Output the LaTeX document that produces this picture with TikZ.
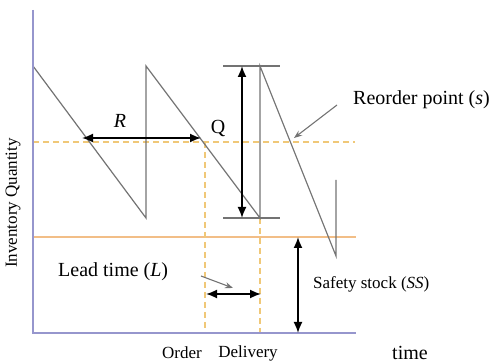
\documentclass[tikz,border=0pt]{standalone}
\usepackage{fontspec}
\setmainfont{Liberation Serif}
\usetikzlibrary{arrows.meta}
\definecolor{axiscol}{RGB}{150,150,205}
\definecolor{sawcol}{RGB}{115,115,115}
\definecolor{dashcol}{RGB}{240,200,120}
\definecolor{sscol}{RGB}{242,190,135}
\tikzset{
  axisline/.style={draw=axiscol, line width=1.5pt},
  saw/.style={draw=sawcol, line width=1.2pt},
  dashref/.style={draw=dashcol, line width=1.1pt, dash pattern=on 6pt off 4pt},
  dblarrow/.style={draw=black, line width=1.7pt, {Latex[length=11pt,width=9pt]}-{Latex[length=11pt,width=9pt]}},
  pointer/.style={draw=sawcol, line width=1.1pt, -{Stealth[length=8pt,width=6pt]}},
  lbl/.style={inner sep=0pt, font=\fontsize{20}{22}\selectfont},
  lblsm/.style={inner sep=0pt, font=\fontsize{17}{19}\selectfont},
}
\begin{document}
\begin{tikzpicture}[x=1pt,y=-1pt]
\useasboundingbox (0,0) rectangle (491,363);
% key points
\coordinate (o) at (33,333);
\coordinate (ytop) at (33,10);
\coordinate (xend) at (356,333);
\coordinate (s0) at (33,66);
\coordinate (b1) at (146,218);
\coordinate (t1) at (146,66);
\coordinate (b2) at (260,218);
\coordinate (t2) at (260,66);
\coordinate (b3) at (336,256);
\coordinate (t3) at (336,180);
% reference lines
\coordinate (rpL) at (33,142);
\coordinate (rpR) at (355,142);
\coordinate (ssL) at (33,237);
\coordinate (ssR) at (356,237);
\coordinate (ord) at (205,142);
\coordinate (ordB) at (205,333);
\coordinate (delB) at (260,333);
\draw[dashref] (rpL) -- (rpR);
\draw[draw=sscol, line width=1.2pt] (ssL) -- (ssR);
\draw[dashref] (ord) -- (ordB);
\draw[dashref] (b2) -- (delB);
% sawtooth
\draw[saw] (s0) -- (b1) -- (t1) -- (b2) -- (t2) -- (b3) -- (t3);
% Q bars
\coordinate (qbt1) at (223,66);
\coordinate (qbt2) at (280,66);
\coordinate (qbb1) at (223,218);
\coordinate (qbb2) at (280,218);
\draw[saw] (qbt1) -- (qbt2);
\draw[saw] (qbb1) -- (qbb2);
% axes
\draw[axisline] (ytop) -- (o) -- (xend);
% arrows
\coordinate (qa1) at (242,66);
\coordinate (qa2) at (242,218);
\draw[dblarrow] (qa1) -- (qa2);
\coordinate (ra1) at (82,138);
\coordinate (ra2) at (201,138);
\draw[dblarrow] (ra1) -- (ra2);
\coordinate (la1) at (206,294);
\coordinate (la2) at (261,294);
\draw[dblarrow] (la1) -- (la2);
\coordinate (sa1) at (298,237);
\coordinate (sa2) at (298,333);
\draw[dblarrow] (sa1) -- (sa2);
% labels
\node[lbl] (R) at (120,121) {\textit{R}};
\node[lbl] (Q) at (218,129) {Q};
\node[lbl, anchor=west] (reorder) at (353,100) {Reorder point (\textit{s})};
\node[lbl, anchor=west] (lead) at (58,272) {Lead time (\textit{L})};
\node[lblsm, anchor=west] (safety) at (313,284) {Safety stock (\textit{SS})};
\node[lblsm] (order) at (182,353) {Order};
\node[lblsm] (delivery) at (248,353) {Delivery};
\node[lbl] (time) at (410,353) {time};
\node[lblsm, rotate=90] (invq) at (13,203) {Inventory Quantity};
% pointers
\coordinate (rpt) at (294,138);
\draw[pointer] (reorder.west) ++(-16,5) -- (rpt);
\coordinate (lpt) at (233,288);
\coordinate (lst) at (201,276);
\draw[pointer] (lst) -- (lpt);
\end{tikzpicture}
\end{document}
